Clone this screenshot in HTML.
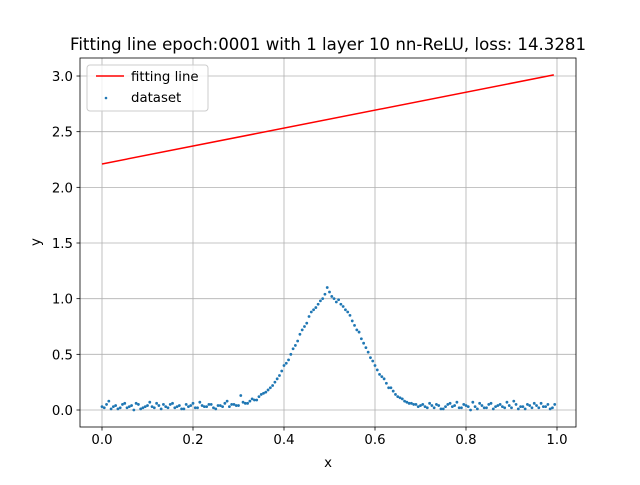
<!DOCTYPE html>
<html><head><meta charset="utf-8"><style>
body{margin:0;background:#fff}
svg text{font-family:"DejaVu Sans","Liberation Sans",sans-serif}
</style></head><body>
<svg id="chart" width="640" height="480" xmlns="http://www.w3.org/2000/svg">
<rect width="640" height="480" fill="#fff"/>
<g id="grid"></g><g id="marks"></g><g id="axes"></g>
</svg>
<script>
const xTicks=[0.0,0.2,0.4,0.6,0.8,1.0];
const xTickLabels=["0.0","0.2","0.4","0.6","0.8","1.0"];
const yTicks=[0,0.5,1,1.5,2,2.5,3];
const yTickLabels=["0.0","0.5","1.0","1.5","2.0","2.5","3.0"];
const lineX=[0.0,0.993];
const lineY=[2.21,3.01];
const dataA=[0.03,0.05,0.01,0.04,0.02,0.06,0.03,0.00,0.05,0.02,0.04,0.03,0.06,0.01,0.03,0.05,0.02,0.04,0.01,0.03,0.06,0.02,0.04,0.03,0.05,0.01,0.04,0.06,0.03,
0.05,0.04,0.07,0.06,0.10,0.09,0.14,0.16,0.20,0.25,0.31,0.40,0.45,0.55,0.62,0.72,0.78,0.88,0.92,0.98,1.04,1.06,1.00,0.99,0.93,0.88,0.80,0.72,0.64,0.56,0.47,0.40,0.32,0.28,0.20,0.17,0.12,0.10,0.07,0.06,0.05,0.04,
0.03,0.06,0.02,0.04,0.01,0.05,0.03,0.07,0.02,0.04,0.00,0.03,0.06,0.02,0.05,0.01,0.04,0.03,0.07,0.02,0.05,0.03,0.01,0.04,0.06,0.02,0.03,0.05,0.02];
const dataB=[0.02,0.08,0.03,0.01,0.05,0.02,0.04,0.06,0.01,0.03,0.07,0.02,0.04,0.05,0.02,0.06,0.03,0.01,0.05,0.04,0.02,0.07,0.03,0.05,0.02,0.04,0.03,0.08,0.05,
0.04,0.13,0.06,0.08,0.09,0.12,0.15,0.18,0.22,0.28,0.35,0.42,0.50,0.58,0.68,0.75,0.84,0.90,0.95,1.00,1.10,1.02,0.97,0.95,0.90,0.85,0.76,0.70,0.60,0.52,0.44,0.36,0.30,0.24,0.20,0.14,0.11,0.08,0.06,0.05,0.03,0.05,
0.02,0.04,0.05,0.01,0.03,0.06,0.04,0.02,0.05,0.03,0.07,0.01,0.04,0.02,0.06,0.03,0.05,0.02,0.04,0.08,0.01,0.03,0.05,0.02,0.04,0.06,0.03,0.01,0.05];
const L=80,R=576,T=58,B=427;
const xs=v=>102+v*455;
const ys=v=>410-v*111.33;
const NS="http://www.w3.org/2000/svg";
function mk(tag,attrs,parent){const e=document.createElementNS(NS,tag);for(const k in attrs)e.setAttribute(k,attrs[k]);parent.appendChild(e);return e;}
const grid=document.getElementById('grid'),marks=document.getElementById('marks'),axes=document.getElementById('axes');
xTicks.forEach((t,i)=>{
 const g=mk('line',{x1:xs(t),x2:xs(t),y1:T,y2:B,stroke:'#b0b0b0','stroke-width':0.8},grid);
 
 
 mk('line',{x1:xs(t),x2:xs(t),y1:B,y2:B+3.5,stroke:'#000','stroke-width':0.8},axes);
 const tx=mk('text',{x:xs(t),y:B+17,'font-size':'13.3','text-anchor':'middle'},axes);tx.textContent=xTickLabels[i];
 
 
});
yTicks.forEach((t,i)=>{
 const g=mk('line',{x1:L,x2:R,y1:ys(t),y2:ys(t),stroke:'#b0b0b0','stroke-width':0.8},grid);
 
 
 mk('line',{x1:L-3.5,x2:L,y1:ys(t),y2:ys(t),stroke:'#000','stroke-width':0.8},axes);
 const tx=mk('text',{x:L-7,y:ys(t)+5,'font-size':'13.3','text-anchor':'end'},axes);tx.textContent=yTickLabels[i];
 
 
});
function dots(arr,off){arr.forEach((v,i)=>{
 const c=mk('circle',{cx:xs(i*0.01+off),cy:ys(v),r:1.4,fill:'#1f77b4'},marks);
 
 
});}
dots(dataA,0);dots(dataB,0.005);
const ln=mk('line',{x1:xs(lineX[0]),y1:ys(lineY[0]),x2:xs(lineX[1]),y2:ys(lineY[1]),stroke:'#ff0000','stroke-width':1.5},marks);


const fr=mk('rect',{x:L,y:T,width:R-L,height:B-T,fill:'none',stroke:'#000','stroke-width':0.8},axes);


const ttl=mk('text',{x:328,y:50,'font-size':'16.6','text-anchor':'middle'},axes);ttl.textContent='Fitting line epoch:0001 with 1 layer 10 nn-ReLU, loss: 14.3281';


const xl=mk('text',{x:328,y:467,'font-size':'13.3','text-anchor':'middle'},axes);xl.textContent='x';


const yl=mk('text',{x:40,y:242,'font-size':'13.3','text-anchor':'middle',transform:'rotate(-90 40 242)'},axes);yl.textContent='y';


const lg=mk('g',{},axes);


mk('rect',{x:87,y:65,width:121,height:46,rx:3,fill:'#fff','fill-opacity':0.8,stroke:'#ccc','stroke-width':1},lg);
mk('line',{x1:96,x2:124,y1:76,y2:76,stroke:'#ff0000','stroke-width':1.5},lg);
const t1=mk('text',{x:131,y:81,'font-size':'13.3'},lg);t1.textContent='fitting line';


mk('circle',{cx:106,cy:98,r:1.3,fill:'#1f77b4'},lg);
const t2=mk('text',{x:131,y:102,'font-size':'13.3'},lg);t2.textContent='dataset';


</script>
</body></html>
